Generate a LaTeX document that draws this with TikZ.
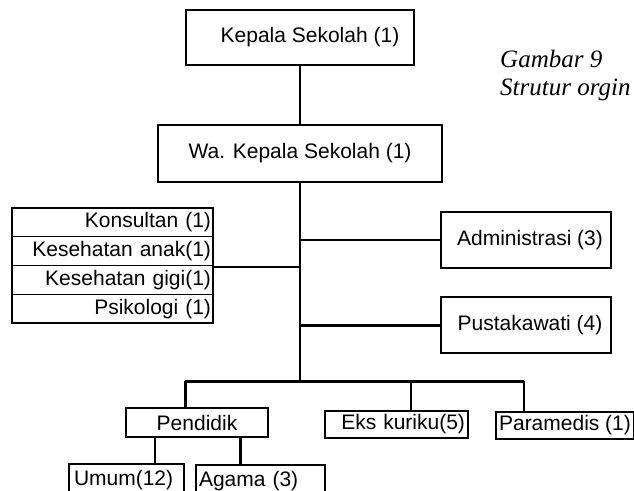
\documentclass[tikz,border=0pt]{standalone}
\usepackage{fontspec}
\setmainfont{Liberation Sans}
\newfontfamily\capfont{Liberation Serif}
\usetikzlibrary{positioning}
\tikzset{
  unit/.style={draw,line width=1.1pt,inner sep=0pt,font=\fontsize{21}{24}\selectfont},
  headbox/.style={unit,line width=2.8pt},
  staff/.style={unit,line width=1.4pt,minimum width=201pt,minimum height=28.75pt,text width=197pt,align=right},
  link/.style={line width=1.8pt},
  heavylink/.style={line width=3pt},
  caption/.style={font=\capfont\itshape\fontsize{25}{28}\selectfont,anchor=base west,inner sep=0pt}
}

\begin{document}
\begin{tikzpicture}[x=1pt,y=-1pt]
  \path[use as bounding box,fill=white] (0,0) rectangle (634,490);

  % Top of the structure
  \node[headbox,minimum width=228pt,minimum height=55pt] (kepala) at (300,37.5) {\hspace*{20pt}Kepala Sekolah (1)};
  \node[headbox,minimum width=284pt,minimum height=57pt] (wa) at (300,153.5) {Wa. Kepala Sekolah (1)};

  % Caption
  \node[caption] (gambar) at (500,67) {Gambar 9};
  \node[caption] (strutur) at (500,95) {Strutur orgin};

  % Staff on the left
  \node[staff] (konsultan) at (112.5,222.4) {Konsultan (1)\hspace*{17pt}};
  \node[staff] (anak) at (112.5,251.1) {Kesehatan anak(1)};
  \node[staff] (gigi) at (112.5,279.9) {Kesehatan gigi(1)};
  \node[staff] (psikologi) at (112.5,308.6) {Psikologi (1)\hspace*{14pt}};

  % Units on the right
  \node[unit,minimum width=170pt,minimum height=56pt] (admin) at (526,240) {\hspace*{8pt}Administrasi (3)};
  \node[unit,minimum width=170pt,minimum height=56pt] (pustaka) at (526,325) {\hspace*{8pt}Pustakawati (4)};

  % Bottom row
  \node[unit,minimum width=142pt,minimum height=29pt] (pendidik) at (197,422.5) {Pendidik};
  \node[unit,minimum width=143pt,minimum height=27pt,text width=137pt,align=right] (ekskul) at (396.5,424.5) {Eks kuriku(5)};
  \node[unit,minimum width=138pt,minimum height=27pt] (paramedis) at (565,425.5) {Paramedis (1)};
  \node[unit,minimum width=115pt,minimum height=32pt,text width=105pt,align=left] (umum) at (126.5,480) {Umum(12)};
  \node[unit,minimum width=129pt,minimum height=32pt,text width=123pt,align=left] (agama) at (260.5,481) {Agama (3)};

  % Joints
  \coordinate (jL) at (300,267);
  \coordinate (jB) at (300,381);
  \coordinate (dP) at (185,381);
  \coordinate (dE) at (411,381);
  \coordinate (dM) at (524,381);
  \coordinate (sU) at (155,437);
  \coordinate (sA) at (240,437);

  % Lines
  \draw[link] (kepala.south) -- (wa.north);
  \draw[link] (wa.south) -- (jB);
  \draw[link] (jL) -- (jL -| gigi.east);
  \draw[link] (admin.west) -- (admin.west -| jB);
  \draw[heavylink] (pustaka.west) -- (pustaka.west -| jB);
  \draw[heavylink] (dP) -- (dM);
  \draw[heavylink] (dP) -- (dP |- pendidik.north);
  \draw[link] (dE) -- (dE |- ekskul.north);
  \draw[link] (dM) -- (dM |- paramedis.north);
  \draw[link] (sU) -- (sU |- umum.north);
  \draw[heavylink] (sA) -- (sA |- agama.north);
\end{tikzpicture}
\end{document}
